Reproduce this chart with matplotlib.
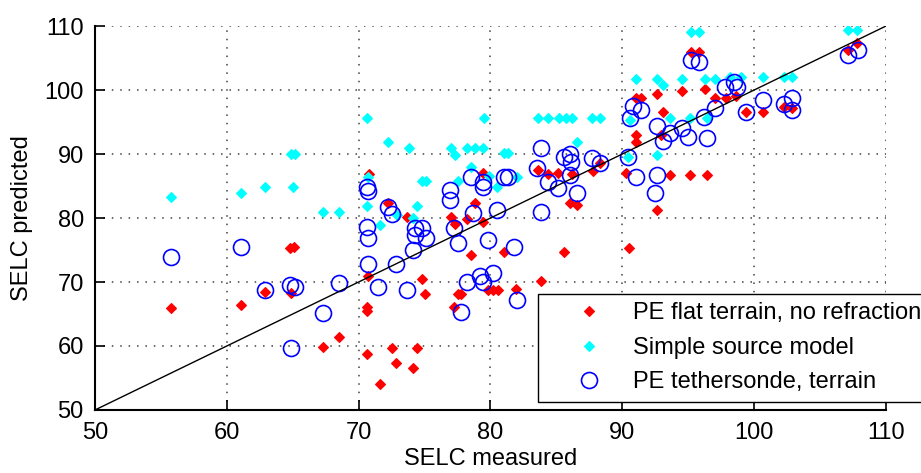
import matplotlib

matplotlib.use("Agg")
import matplotlib.pyplot as plt

plt.rcParams["font.family"] = ["Liberation Sans", "DejaVu Sans"]

# PE flat terrain, no refraction
flat_x = [55.8, 61.1, 62.9, 64.8, 65.1, 64.9, 67.3, 68.5, 70.6, 70.6, 70.6, 70.7,
          70.8, 72.2, 72.5, 72.8, 71.6, 73.7, 74.4, 74.1, 74.8, 75.0, 77.0, 77.3,
          78.2, 78.8, 79.4, 79.4, 78.5, 77.2, 77.5, 77.8, 79.8, 80.2, 80.6, 81.9,
          81.0, 83.8, 85.6, 90.5, 83.6, 84.4, 85.1, 86.2, 86.0, 86.6, 87.8, 88.3,
          90.3, 91.0, 91.0, 91.0, 91.4, 92.6, 94.5, 96.3, 95.2, 95.8, 93.1, 92.9,
          93.6, 95.1, 96.4, 92.6, 97.0, 97.9, 98.6, 99.4, 100.7, 102.3, 102.9,
          107.1, 107.8]
flat_y = [65.9, 66.4, 68.4, 75.3, 75.4, 68.3, 59.8, 61.4, 58.8, 66.1, 65.5, 71.0,
          86.9, 82.4, 59.7, 57.3, 54.0, 80.2, 59.7, 56.5, 70.5, 68.1, 80.2, 79.1,
          79.8, 82.4, 79.3, 87.1, 74.2, 66.1, 68.1, 68.1, 68.8, 68.8, 68.8, 68.9,
          74.7, 70.2, 74.7, 75.3, 87.5, 86.8, 87.0, 86.8, 82.4, 82.1, 87.4, 88.6,
          87.0, 93.0, 91.9, 98.8, 98.8, 99.4, 99.8, 100.1, 106.0, 106.0, 96.6, 93.0,
          86.7, 86.7, 86.7, 81.2, 98.8, 98.8, 99.0, 96.6, 96.6, 97.4, 97.2,
          106.2, 107.4]

# Simple source model
simple_x = [55.8, 61.1, 62.9, 64.9, 65.2, 65.0, 67.3, 68.5, 70.6, 70.7, 70.6, 72.2,
            73.8, 77.0, 77.3, 78.2, 78.8, 79.4, 79.5, 81.0, 81.3, 83.6, 84.4, 85.2,
            85.7, 86.2, 87.7, 88.3, 86.6, 91.0, 74.8, 75.1, 78.5, 77.5, 80.5, 82.0,
            79.9, 74.4, 74.1, 71.6, 72.9, 90.6, 92.6, 93.1, 94.5, 96.3, 97.0, 98.2,
            99.0, 100.7, 102.3, 102.9, 95.2, 95.8, 107.1, 107.8, 93.6, 95.1, 96.4,
            92.6, 90.4]
simple_y = [83.3, 83.9, 84.8, 90.0, 90.0, 84.8, 81.0, 81.0, 95.7, 86.4, 81.8, 91.8,
            90.9, 90.9, 89.8, 90.9, 90.9, 90.9, 95.7, 90.1, 90.1, 95.7, 95.7, 95.7,
            95.7, 95.7, 95.7, 95.7, 91.8, 101.7, 85.8, 85.8, 88.0, 85.8, 84.8, 86.4,
            86.5, 81.9, 80.0, 78.9, 80.5, 95.3, 101.7, 100.8, 101.7, 101.7, 101.7, 102.0,
            102.0, 102.0, 102.0, 102.0, 109.1, 109.1, 109.4, 109.4, 95.7, 95.7, 95.7,
            89.8, 89.5]

# PE tethersonde, terrain
tether_x = [55.8, 61.1, 62.9, 64.8, 65.2, 68.5, 67.3, 64.9, 70.6, 70.7, 70.7, 70.6,
            70.7, 72.2, 72.5, 71.5, 72.8, 73.7, 74.3, 74.8, 75.1, 74.3, 74.1, 76.9,
            76.9, 77.2, 77.5, 78.5, 79.4, 79.4, 78.7, 79.8, 80.5, 81.0, 81.3, 81.8,
            78.2, 79.2, 79.4, 80.2, 77.8, 82.0, 83.8, 83.5, 84.4, 85.1, 85.6, 86.0,
            86.1, 86.6, 87.7, 88.3, 86.0, 83.8, 90.4, 91.0, 90.8, 91.4, 90.6, 92.6,
            93.1, 93.6, 95.0, 94.5, 96.4, 96.2, 97.0, 97.8, 92.6, 92.5, 95.2, 95.8,
            98.5, 98.7, 99.4, 100.7, 102.3, 102.9, 102.9, 107.1, 107.9]
tether_y = [73.9, 75.5, 68.8, 69.5, 69.2, 69.9, 65.2, 59.7, 78.6, 76.9, 72.8, 84.8,
            84.2, 81.7, 80.6, 69.2, 72.8, 68.8, 78.4, 78.4, 76.9, 77.4, 75.0, 84.4,
            82.8, 78.4, 76.1, 86.4, 85.6, 84.8, 80.8, 76.6, 81.3, 86.4, 86.4, 75.5,
            70.0, 70.9, 70.0, 71.4, 65.3, 67.2, 90.9, 87.8, 85.6, 84.7, 89.5, 90.0,
            88.8, 83.9, 89.4, 88.6, 86.7, 81.0, 89.5, 86.4, 97.5, 96.9, 95.6, 94.4,
            92.0, 93.3, 92.7, 94.1, 92.5, 95.8, 97.2, 100.5, 86.7, 83.9, 104.7, 104.3,
            101.3, 100.5, 96.6, 98.4, 97.8, 98.8, 96.9, 105.5, 106.3]

ticks = [50, 60, 70, 80, 90, 100, 110]

fig = plt.figure(figsize=(9.21, 4.73), dpi=100)
ax = fig.add_axes([0.1031, 0.1332, 0.8589, 0.8118])

ax.plot(flat_x, flat_y, linestyle="none", marker="D", markersize=5.2,
        color="#ff0000", markeredgewidth=0.8, label="PE flat terrain, no refraction")
ax.plot(simple_x, simple_y, linestyle="none", marker="D", markersize=5.2,
        color="#00ffff", markeredgewidth=0.8, label="Simple source model")
ax.plot(tether_x, tether_y, linestyle="none", marker="o", markersize=11.5,
        markerfacecolor="none", markeredgecolor="#0000ff", markeredgewidth=1.2,
        label="PE tethersonde, terrain")
ax.plot([50, 110], [50, 110], color="black", linewidth=1.0)

ax.set_xlim(50, 110)
ax.set_ylim(50, 110)
ax.set_xticks(ticks)
ax.set_yticks(ticks)
ax.tick_params(direction="in", length=7, width=1.2, labelsize=17, colors="black")
ax.tick_params(axis="x", pad=8.5)
ax.tick_params(axis="y", pad=8)
ax.grid(True, linestyle=(0, (1, 4.5)), linewidth=1.1, color="0.25")
for side in ["top", "right"]:
    ax.spines[side].set_visible(False)
for side in ["left", "bottom"]:
    ax.spines[side].set_linewidth(1.5)

ax.set_xlabel("SELC measured", fontsize=17, labelpad=3)
ax.set_ylabel("SELC predicted", fontsize=17, labelpad=8)

leg = ax.legend(loc="upper left", bbox_to_anchor=(0.560, 0.302),
                borderaxespad=0, fontsize=17, handlelength=3.6,
                handletextpad=0.08, borderpad=0.35, labelspacing=0.53,
                fancybox=False, framealpha=1, edgecolor="black")
leg.get_frame().set_linewidth(1.0)

fig.savefig("out.png", dpi=100)
